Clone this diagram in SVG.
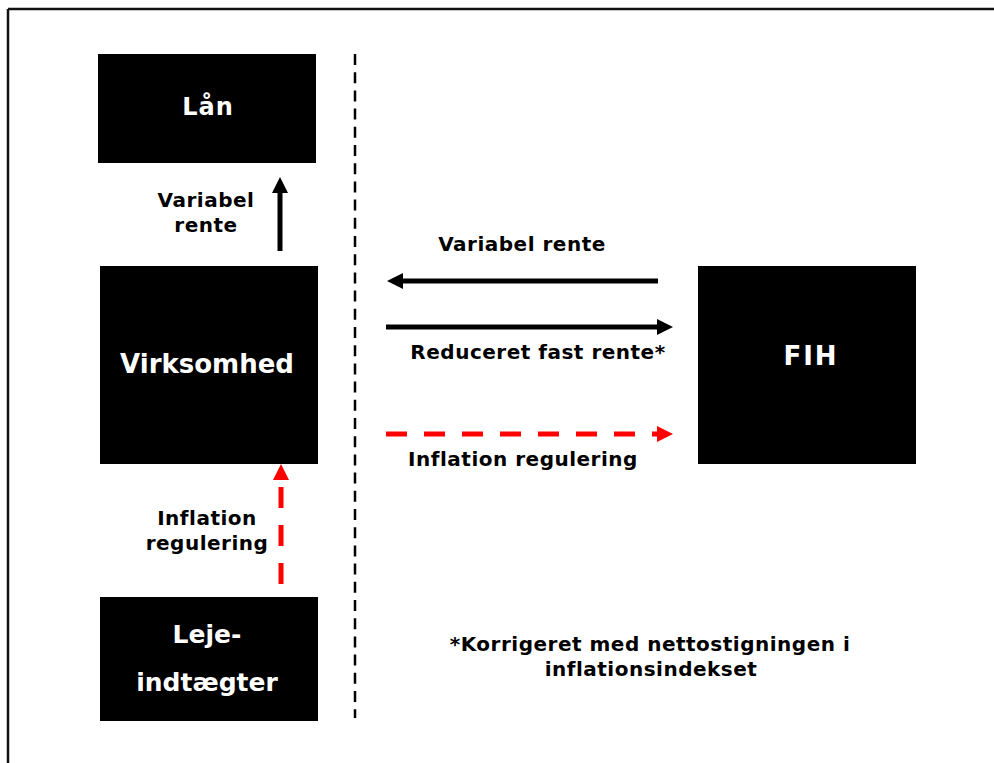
<svg xmlns="http://www.w3.org/2000/svg" width="994" height="763" viewBox="0 0 994 763">
<defs>
<style>
.box{fill:#000}
.bt{fill:#fff;font-family:"DejaVu Sans",Verdana,sans-serif;font-weight:bold;text-anchor:middle}
.lt{fill:#000;font-family:"DejaVu Sans",Verdana,sans-serif;font-weight:bold;font-size:20px;letter-spacing:0.5px;text-anchor:middle}
.ar{stroke:#000;stroke-width:5;fill:none}
.rd{stroke:#ff0000;stroke-width:5;fill:none;stroke-dasharray:21 17}
</style>
<marker id="ahb" markerUnits="userSpaceOnUse" markerWidth="16" markerHeight="16" refX="0" refY="8" orient="auto"><path d="M0,0 L16,8 L0,16 z" fill="#000"/></marker>
<marker id="ahr" markerUnits="userSpaceOnUse" markerWidth="16" markerHeight="16" refX="0" refY="8" orient="auto"><path d="M0,0 L16,8 L0,16 z" fill="#ff0000"/></marker>
</defs>
<rect width="994" height="763" fill="#fff"/>
<g id="frame">
<line x1="8" y1="9" x2="994" y2="9" stroke="#111" stroke-width="2.5"/>
<line x1="8" y1="9" x2="8" y2="763" stroke="#111" stroke-width="2.5"/>
<line x1="355" y1="54" x2="355" y2="718" stroke="#000" stroke-width="2.5" stroke-dasharray="11 7.2"/>
</g>
<g id="laan"><rect class="box" x="98" y="54" width="218" height="109"/><text class="bt" x="208" y="115" font-size="24" letter-spacing="1">Lån</text></g>
<g id="virksomhed"><rect class="box" x="100" y="266" width="218" height="198"/><text class="bt" x="207" y="373" font-size="26">Virksomhed</text></g>
<g id="fih"><rect class="box" x="698" y="266" width="218" height="198"/><text class="bt" x="811" y="365" font-size="26" letter-spacing="2">FIH</text></g>
<g id="leje"><rect class="box" x="100" y="597" width="218" height="124"/><text class="bt" x="207" y="643" font-size="25">Leje-</text><text class="bt" x="207" y="691" font-size="25">indtægter</text></g>
<g id="connectors">
<line class="ar" x1="280" y1="251" x2="280" y2="193" marker-end="url(#ahb)"/>
<line class="ar" x1="658" y1="281" x2="403" y2="281" marker-end="url(#ahb)"/>
<line class="ar" x1="386" y1="327" x2="657" y2="327" marker-end="url(#ahb)"/>
<line class="rd" x1="386" y1="434" x2="657" y2="434" marker-end="url(#ahr)"/>
<line class="rd" x1="281" y1="584" x2="281" y2="480" marker-end="url(#ahr)"/>
</g>
<g id="labels">
<text class="lt" x="206" y="207">Variabel</text>
<text class="lt" x="206" y="232">rente</text>
<text class="lt" x="207" y="525">Inflation</text>
<text class="lt" x="207" y="550">regulering</text>
<text class="lt" x="522" y="251">Variabel rente</text>
<text class="lt" x="538" y="359">Reduceret fast rente*</text>
<text class="lt" x="523" y="466">Inflation regulering</text>
<text class="lt" x="650" y="651">*Korrigeret med nettostigningen i</text>
<text class="lt" x="651" y="676">inflationsindekset</text>
</g>
</svg>
